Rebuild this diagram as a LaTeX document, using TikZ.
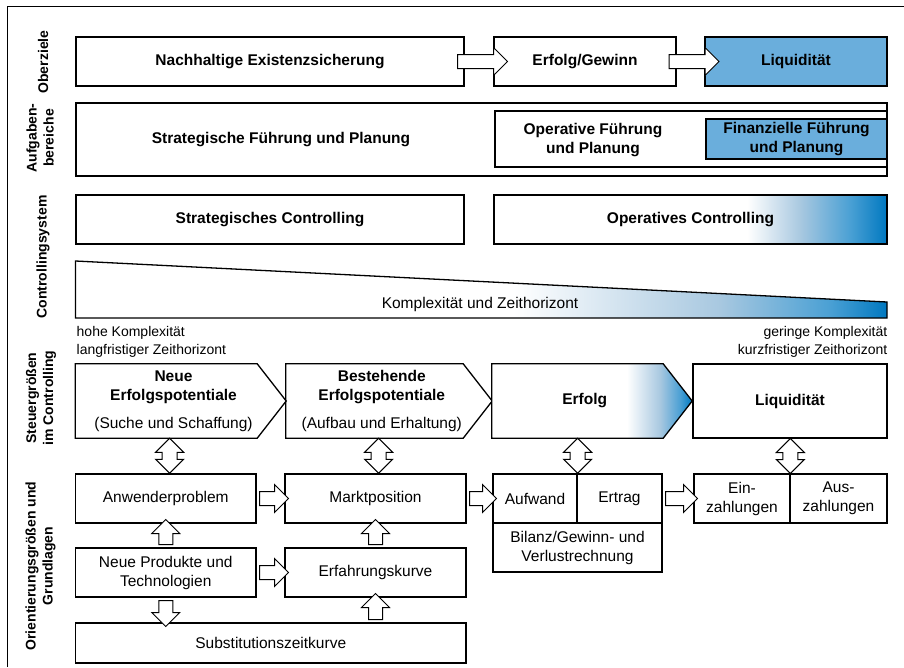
\documentclass[tikz,border=0pt]{standalone}
\usepackage{fontspec}
\setmainfont{Liberation Sans}
\usetikzlibrary{positioning, calc, shapes.arrows, backgrounds}

\definecolor{liqblue}{HTML}{6AAEDC}
\definecolor{paleblue}{HTML}{A8C8E0}
\definecolor{midblue}{HTML}{4AA0D4}
\definecolor{deepblue}{HTML}{0078C0}

\pgfdeclarehorizontalshading{wedgeshade}{100bp}{color(0bp)=(white); color(52bp)=(white); color(64.7bp)=(paleblue); color(71.5bp)=(midblue); color(75bp)=(deepblue); color(100bp)=(deepblue)}
\pgfdeclarehorizontalshading{ctrlshade}{100bp}{color(0bp)=(white); color(57.2bp)=(white); color(64bp)=(paleblue); color(70.3bp)=(midblue); color(75bp)=(deepblue); color(100bp)=(deepblue)}
\pgfdeclarehorizontalshading{erfshade}{100bp}{color(0bp)=(white); color(58.7bp)=(white); color(67bp)=(paleblue); color(72bp)=(midblue); color(75bp)=(deepblue); color(100bp)=(deepblue)}

\begin{document}
\begin{tikzpicture}[
    x=1pt, y=-1pt,
    font=\fontsize{15.5}{19}\selectfont,
    box/.style={
        rectangle,
        draw,
        line width=1.3pt,
        inner sep=0pt,
        align=center,
        minimum height=49pt
    },
    bold/.style={font=\fontsize{15.5}{19}\selectfont\bfseries},
    pot/.style={
        rectangle,
        inner sep=0pt,
        align=center,
        minimum height=74pt
    },
    side/.style={rotate=90, align=center, font=\fontsize{14}{17}\selectfont\bfseries},
    note/.style={inner sep=0pt, font=\fontsize{14}{18.5}\selectfont},
    blockarrow/.style={
        single arrow,
        draw,
        fill=white,
        line width=1pt,
        inner xsep=0pt,
        inner ysep=6.5pt,
        single arrow head extend=7pt,
        single arrow head indent=0pt
    },
    twoway/.style={
        double arrow,
        draw,
        fill=white,
        line width=1pt,
        inner xsep=0pt,
        inner ysep=7pt,
        double arrow head extend=6.5pt,
        minimum height=35pt,
        rotate=90
    }
]
\useasboundingbox (0,0) rectangle (904,667);

% Frame
\draw[line width=0.8pt] (7,667) -- (7,6) -- (904,6);

% Row labels
\node[side] (lab1) at (43,62) {Oberziele};
\node[side] (lab2) at (40,138) {Aufgaben-\\bereiche};
\node[side] (lab3) at (43,257) {Controllingsystem};
\node[side] (lab4) at (41,398) {Steuergrößen\\im Controlling};
\node[side] (lab5) at (40.5,566) {Orientierungsgrößen und\\Grundlagen};

% Oberziele
\node[box, bold, minimum width=388pt] (ziel1) at (270,61.5) {Nachhaltige Existenzsicherung};
\node[box, bold, minimum width=182pt] (ziel2) at (585,61.5) {Erfolg/Gewinn};
\node[box, bold, fill=liqblue, minimum width=182pt] (ziel3) at (796,61.5) {Liquidität};

% Aufgabenbereiche
\node[box, minimum width=811pt, minimum height=73pt] (auf1) at (481.5,139.5) {};
\node[box, minimum width=392pt, minimum height=56pt] (auf2) at (691,139) {};
\node[box, bold, fill=liqblue, minimum width=181pt, minimum height=40pt] (auf3) at (796.5,139) {Finanzielle Führung\\und Planung};
\node[bold] (strat) at (281,140) {Strategische Führung und Planung};
\node[bold, align=center] (oper) at (593,140) {Operative Führung\\und Planung};

% Controllingsystem
\node[box, bold, minimum width=388pt] (ctrl1) at (270,219.5) {Strategisches Controlling};
\node[box, bold, shade, shading=ctrlshade, minimum width=393pt] (ctrl2) at (690.5,219.5) {Operatives Controlling};

% Komplexitaet
\shadedraw[shading=wedgeshade, line width=1.3pt] (75.5,261) -- (887,302) -- (887,318) -- (75.5,318) -- cycle;
\node (kompl) at (480,304) {Komplexität und Zeithorizont};
\node[note, anchor=west, align=left] (hoch) at (76.5,342) {hohe Komplexität\\langfristiger Zeithorizont};
\node[note, anchor=east, align=right] (gering) at (887.5,342) {geringe Komplexität\\kurzfristiger Zeithorizont};

% Steuergroessen
\node[pot, minimum width=196pt] (neupot) at (173.5,401) {\textbf{Neue}\\\textbf{Erfolgspotentiale}\\[9pt](Suche und Schaffung)};
\node[pot, minimum width=191.5pt] (altpot) at (381.75,401) {\textbf{Bestehende}\\\textbf{Erfolgspotentiale}\\[9pt](Aufbau und Erhaltung)};
\node[pot, bold, minimum width=185.5pt] (erfolg) at (584.75,401) {Erfolg};
\node[box, bold, minimum width=194pt, minimum height=74pt] (liq) at (790,401) {Liquidität};

\begin{scope}[on background layer]
\draw[line width=1.3pt] (neupot.north west) -- ($(neupot.north east)+(-14.5,0)$) -- ($(neupot.east)+(14.5,0)$) -- ($(neupot.south east)+(-14.5,0)$) -- (neupot.south west) -- cycle;
\draw[line width=1.3pt] (altpot.north west) -- ($(altpot.north east)+(-14.5,0)$) -- ($(altpot.east)+(14.5,0)$) -- ($(altpot.south east)+(-14.5,0)$) -- (altpot.south west) -- cycle;
\shadedraw[shading=erfshade, line width=1.3pt] (erfolg.north west) -- ($(erfolg.north east)+(-14.5,0)$) -- ($(erfolg.east)+(14.5,0)$) -- ($(erfolg.south east)+(-14.5,0)$) -- (erfolg.south west) -- cycle;
\end{scope}

% Orientierungsgroessen
\node[box, minimum width=180.5pt] (anw) at (165.75,498.5) {Anwenderproblem};
\node[box, minimum width=181pt] (markt) at (375.5,498.5) {Marktposition};
\node[box, minimum width=84pt] (aufw) at (535,498.5) {Aufwand};
\node[box, minimum width=85pt] (ertr) at (619.5,498.5) {Ertrag};
\node[box, minimum width=169pt] (bilanz) at (577.5,547.5) {Bilanz/Gewinn- und\\Verlustrechnung};
\node[box, minimum width=96pt] (einz) at (742,498.5) {Ein-\\zahlungen};
\node[box, minimum width=97pt] (ausz) at (838.5,498.5) {Aus-\\zahlungen};
\node[box, minimum width=180.5pt] (neuprod) at (165.75,572.5) {Neue Produkte und\\Technologien};
\node[box, minimum width=181pt] (erfkurve) at (375.5,572.5) {Erfahrungskurve};
\node[box, minimum width=390.5pt, minimum height=40pt] (subst) at (270.75,643) {Substitutionszeitkurve};

% Block arrows Oberziele
\node[blockarrow, minimum height=50pt] (z12) at ($(ziel1.east)!0.5!(ziel2.west)$) {};
\node[blockarrow, minimum height=50pt] (z23) at ($(ziel2.east)!0.5!(ziel3.west)$) {};

% Mapping arrows
\node[twoway] (m1) at ($(neupot.south)!0.5!(anw.north)$) {};
\node[twoway] (m2) at ($(altpot.south)!0.5!(markt.north)$) {};
\node[twoway] (m3) at ($(erfolg.south -| aufw.north east)!0.5!(aufw.north east)$) {};
\node[twoway] (m4) at ($(liq.south)!0.5!(einz.north east)$) {};

% Horizontal arrows
\node[blockarrow, minimum height=29pt] (h1) at ($(anw.east)!0.5!(markt.west)$) {};
\node[blockarrow, minimum height=27pt] (h2) at ($(markt.east)!0.5!(aufw.west)$) {};
\node[blockarrow, minimum height=32pt] (h3) at ($(ertr.east)!0.5!(einz.west)$) {};
\node[blockarrow, minimum height=29pt] (h4) at ($(neuprod.east)!0.5!(erfkurve.west)$) {};

% Vertical arrows
\node[blockarrow, rotate=90, minimum height=25pt] (v1) at ($(neuprod.north)!0.5!(anw.south)$) {};
\node[blockarrow, rotate=90, minimum height=25pt] (v2) at ($(erfkurve.north)!0.5!(markt.south)$) {};
\node[blockarrow, rotate=-90, minimum height=26pt] (v3) at ($(neuprod.south)!0.5!(neuprod.south |- subst.north)$) {};
\node[blockarrow, rotate=90, minimum height=26pt] (v4) at ($(erfkurve.south)!0.5!(erfkurve.south |- subst.north)$) {};

\end{tikzpicture}
\end{document}
